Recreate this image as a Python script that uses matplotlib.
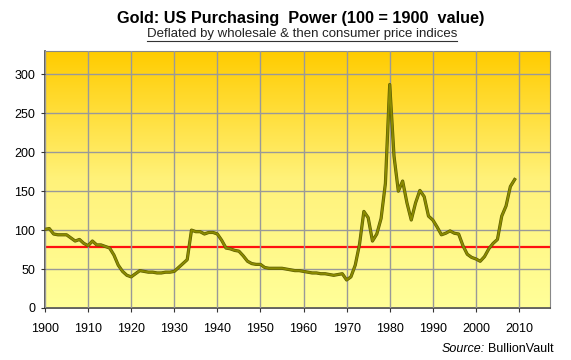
import matplotlib
matplotlib.use("Agg")
import matplotlib.pyplot as plt
import matplotlib.patheffects as pe
import numpy as np
from matplotlib.colors import LinearSegmentedColormap

plt.rcParams['font.family'] = ['Liberation Sans', 'DejaVu Sans']

# yearly index values, 1900 = 100
years = list(range(1900, 2010))
power = [101, 102, 95, 94, 94, 94, 90, 86, 88, 83,
         80, 86, 81, 81, 79, 77, 68, 55, 47, 42,
         40, 44, 48, 47, 46, 46, 45, 45, 46, 46,
         47, 52, 57, 62, 100, 98, 98, 95, 97, 97,
         95, 87, 77, 76, 74, 73, 67, 60, 57, 56,
         56, 52, 51, 51, 51, 51, 50, 49, 48, 48,
         47, 46, 45, 45, 44, 44, 43, 42, 43, 44,
         36, 40, 55, 82, 124, 116, 86, 95, 115, 160,
         287, 195, 150, 163, 135, 113, 135, 151, 143, 118,
         113, 104, 94, 96, 99, 96, 95, 80, 69, 65,
         63, 60, 66, 76, 83, 88, 118, 131, 156, 165]
average_level = 78

title = "Gold: US Purchasing  Power (100 = 1900  value)"
subtitle = "Deflated by wholesale & then consumer price indices"

fig = plt.figure(figsize=(5.71, 3.6), dpi=100)
ax = fig.add_axes([45 / 571, 1 - 308 / 360, 505 / 571, 257 / 360])

# gradient background, orange on top fading to pale yellow
cmap = LinearSegmentedColormap.from_list("gold", ["#FFFF99", "#FFF27A", "#FFCC00"])
grad = np.linspace(0, 1, 256).reshape(-1, 1)
ax.imshow(grad, cmap=cmap, aspect="auto", origin="lower",
          extent=[1900, 2017.2, 0, 330], zorder=0)

ax.set_xlim(1900, 2017.2)
ax.set_ylim(0, 330)
ax.set_xticks(range(1900, 2011, 10))
ax.set_yticks(range(0, 301, 50))
ax.grid(True, color="#999999", lw=1, zorder=1)
ax.set_axisbelow(False)

ax.axhline(average_level, color="#FF1010", lw=1.6, zorder=2)
ax.plot(years, power, color="#8A8A00", lw=1.4, zorder=3,
        path_effects=[pe.Stroke(linewidth=2.3, foreground="#5A5A00"), pe.Normal()])

for s in ["top", "right"]:
    ax.spines[s].set_color("#888888")
for s in ["left", "bottom"]:
    ax.spines[s].set_color("#444444")
    ax.spines[s].set_linewidth(1.2)
ax.tick_params(axis="both", labelsize=9, colors="#333333", length=3, pad=4)
ax.tick_params(axis="x", pad=8)
for lbl in ax.get_xticklabels() + ax.get_yticklabels():
    lbl.set_color("black")

fig.text(301 / 571, 1 - 19 / 360, title, ha="center", va="center",
         fontsize=11.7, fontweight="bold")
fig.text(302 / 571, 1 - 34 / 360, subtitle, ha="center", va="center",
         fontsize=9.5, color="#222222")
fig.add_artist(plt.Line2D([147 / 571, 457 / 571], [1 - 41 / 360, 1 - 41 / 360],
                          color="#333333", lw=0.8))

fig.text(485 / 571, 1 - 349 / 360, "Source:", ha="right", va="center",
         fontsize=9, style="italic")
fig.text(488 / 571, 1 - 349 / 360, "BullionVault", ha="left", va="center",
         fontsize=9)

fig.savefig("out.png", dpi=100, facecolor="white")
